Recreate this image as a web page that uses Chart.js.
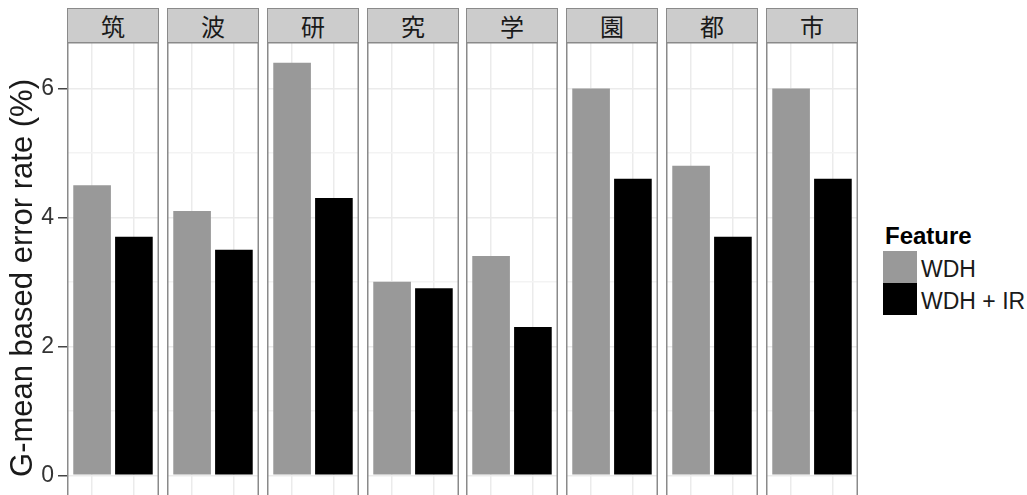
<!DOCTYPE html>
<html>
<head>
<meta charset="utf-8">
<script src="https://cdn.jsdelivr.net/npm/chart.js@4"></script>
<style>
  html, body { margin: 0; padding: 0; background: #ffffff; }
  #plot { position: relative; width: 1027px; height: 495px; overflow: hidden; background: #ffffff; }
  canvas { position: absolute; display: block; }
  .strip {
    position: absolute; box-sizing: border-box; top: 8px; height: 35px;
    background: #cccccc; border: 1.5px solid #8a8a8a;
    font-family: "Noto Sans CJK JP", sans-serif; font-size: 24px; color: #1a1a1a;
    display: flex; align-items: center; justify-content: center; line-height: 1;
  }
  .legend-title {
    position: absolute; left: 885px; top: 224px;
    font-family: "Liberation Sans", Arial, sans-serif; font-weight: bold; font-size: 24px; line-height: 24px; color: #000;
  }
  .legend-key { position: absolute; left: 883px; width: 34px; height: 32px; }
  .legend-label {
    position: absolute; left: 921px;
    font-family: "Liberation Sans", Arial, sans-serif; font-size: 23px; line-height: 23px; color: #1a1a1a; white-space: nowrap;
  }
</style>
</head>
<body>
<div id="plot"></div>
<script>
// Facet labels, one panel per character
const panels = ['筑', '波', '研', '究', '学', '園', '都', '市'];
// G-mean based error rate (%) per panel
const wdh   = [4.5, 4.1, 6.4, 3.0, 3.4, 6.0, 4.8, 6.0];
const wdhIr = [3.7, 3.5, 4.3, 2.9, 2.3, 4.6, 3.7, 4.6];
// Feature groups and their fills
const features = ['WDH', 'WDH + IR'];
const featureColors = ['#999999', '#000000'];
// Y axis: labelled ticks and all gridline steps (odd ones are minor)
const yTicks = [0, 2, 4, 6];
const yGridSteps = [0, 1, 2, 3, 4, 5, 6];
const yTitle = 'G-mean based error rate (%)';
const legendTitle = 'Feature';

// Layout of the facet grid
const PANEL_LEFT = 67, PANEL_PITCH = 99.86, PANEL_W = 92;
const PANEL_TOP = 42, PANEL_H = 472;
const AXIS_W = 67;

const plot = document.getElementById('plot');

// Frame around each panel's plotting area
const panelFrame = {
  id: 'panelFrame',
  afterDraw(chart) {
    const { ctx, chartArea: a } = chart;
    ctx.save();
    ctx.strokeStyle = '#8a8a8a';
    ctx.lineWidth = 1.5;
    ctx.strokeRect(a.left + 0.75, a.top + 0.75, a.right - a.left - 1.5, a.bottom - a.top - 1.5);
    ctx.restore();
  }
};

function makePanel(i) {
  const withAxis = i === 0;
  const left = Math.round(PANEL_LEFT + i * PANEL_PITCH);
  const canvasLeft = withAxis ? 0 : left;
  const canvasW = withAxis ? left + PANEL_W : PANEL_W;

  const strip = document.createElement('div');
  strip.className = 'strip';
  strip.style.left = left + 'px';
  strip.style.width = PANEL_W + 'px';
  strip.textContent = panels[i];
  plot.appendChild(strip);

  const canvas = document.createElement('canvas');
  canvas.width = canvasW;
  canvas.height = PANEL_H;
  canvas.style.left = canvasLeft + 'px';
  canvas.style.top = PANEL_TOP + 'px';
  canvas.style.width = canvasW + 'px';
  canvas.style.height = PANEL_H + 'px';
  plot.appendChild(canvas);

  new Chart(canvas, {
    type: 'bar',
    data: {
      labels: features,
      datasets: [{
        label: panels[i],
        data: [{ x: 1, y: wdh[i] }, { x: 2, y: wdhIr[i] }],
        backgroundColor: featureColors,
        borderWidth: 0,
        categoryPercentage: 1,
        barPercentage: 0.9
      }]
    },
    options: {
      responsive: false,
      maintainAspectRatio: false,
      animation: false,
      layout: { padding: 0 },
      plugins: { legend: { display: false }, tooltip: { enabled: false } },
      scales: {
        x: {
          type: 'linear',
          min: 0.4,
          max: 2.6,
          offset: false,
          afterBuildTicks: s => { s.ticks = [1, 2].map(v => ({ value: v })); },
          afterFit: s => { s.height = 0; s.paddingLeft = 0; s.paddingRight = 0; },
          ticks: { display: false },
          grid: { offset: false, drawTicks: false, color: '#ebebeb', lineWidth: 1.5 },
          border: { display: false }
        },
        y: {
          type: 'linear',
          min: -0.32 - 0.28,
          max: 6.72,
          afterBuildTicks: s => { s.ticks = yGridSteps.map(v => ({ value: v })); },
          afterFit: s => { s.width = withAxis ? AXIS_W : 0; s.paddingTop = 0; s.paddingBottom = 0; },
          border: { display: false },
          grid: {
            drawTicks: withAxis,
            tickLength: 9,
            tickWidth: 1.5,
            lineWidth: 1.5,
            color: c => yTicks.includes(c.tick.value) ? '#ebebeb' : '#f3f3f3',
            tickColor: c => yTicks.includes(c.tick.value) ? '#444444' : 'rgba(0,0,0,0)'
          },
          ticks: {
            display: withAxis,
            padding: 4,
            color: '#333333',
            font: { family: '"Liberation Sans", Arial, sans-serif', size: 23 },
            callback: v => yTicks.includes(v) ? String(v) : ''
          },
          title: {
            display: withAxis,
            text: yTitle,
            color: '#1a1a1a',
            font: { family: '"Liberation Sans", Arial, sans-serif', size: 31, lineHeight: 1 },
            padding: { top: 8, bottom: 0 }
          }
        }
      }
    },
    plugins: [panelFrame]
  });
}

panels.forEach((_, i) => makePanel(i));

// Legend for the fill groups
const lt = document.createElement('div');
lt.className = 'legend-title';
lt.textContent = legendTitle;
plot.appendChild(lt);

features.forEach((name, k) => {
  const key = document.createElement('div');
  key.className = 'legend-key';
  key.style.top = (251 + k * 32) + 'px';
  key.style.background = featureColors[k];
  plot.appendChild(key);

  const lab = document.createElement('div');
  lab.className = 'legend-label';
  lab.style.top = (258 + k * 32) + 'px';
  lab.textContent = name;
  plot.appendChild(lab);
});
</script>
</body>
</html>
